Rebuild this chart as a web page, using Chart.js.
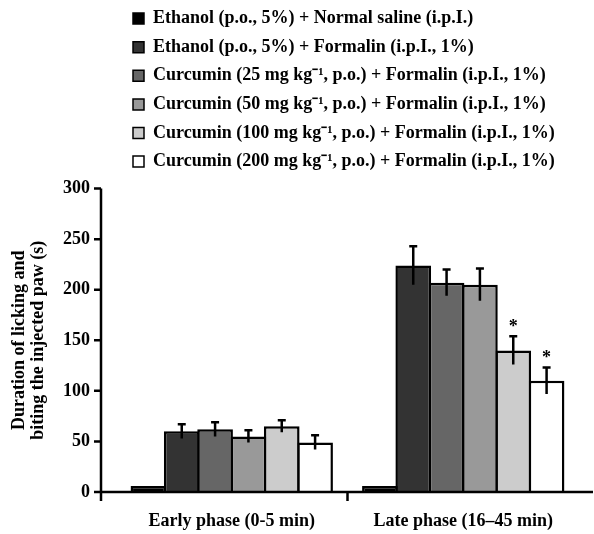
<!DOCTYPE html>
<html>
<head>
<meta charset="utf-8">
<script src="https://cdn.jsdelivr.net/npm/chart.js@4"></script>
<style>
  body { margin: 0; background: #fff; }
</style>
</head>
<body>
<canvas id="chartCanvas" width="594" height="534"></canvas>
<script>
// phases on the x axis
const phases = ['Early phase (0-5 min)', 'Late phase (16\u201345 min)'];

// treatment groups (legend)
const groups = [
    'Ethanol (p.o., 5%) + Normal saline (i.p.I.)',
    'Ethanol (p.o., 5%) + Formalin (i.p.I., 1%)',
    'Curcumin (25 mg kg\u207B\u00B9, p.o.) + Formalin (i.p.I., 1%)',
    'Curcumin (50 mg kg\u207B\u00B9, p.o.) + Formalin (i.p.I., 1%)',
    'Curcumin (100 mg kg\u207B\u00B9, p.o.) + Formalin (i.p.I., 1%)',
    'Curcumin (200 mg kg\u207B\u00B9, p.o.) + Formalin (i.p.I., 1%)'
];
const groupColors = ['#000000', '#333333', '#666666', '#999999', '#cccccc', '#ffffff'];

// mean duration (s) per group: [early, late]
const salineMeans = [6, 6];
const ethanolMeans = [60, 224];
const curc25Means = [62, 207];
const curc50Means = [55, 205];
const curc100Means = [65, 140];
const curc200Means = [49, 110];
const groupMeans = [salineMeans, ethanolMeans, curc25Means, curc50Means, curc100Means, curc200Means];

// SEM per group: [early, late]
const salineSem = [0, 0];
const ethanolSem = [7, 19];
const curc25Sem = [7, 13];
const curc50Sem = [6, 16];
const curc100Sem = [6, 14];
const curc200Sem = [7, 13];
const groupSem = [salineSem, ethanolSem, curc25Sem, curc50Sem, curc100Sem, curc200Sem];

// significance marks (*) per group: [early, late]
const groupStars = [[false, false], [false, false], [false, false], [false, false], [false, true], [false, true]];

// y axis
const yMin = 0;
const yMax = 300;
const yStep = 50;

const FONT = '"Liberation Serif", "Times New Roman", serif';
const AXIS_GAP = 15; // axis lines sit a bit outside the bars area
const TOP_PAD = 7;
const LEGEND_SHIFT = -8;

Chart.defaults.font.family = FONT;
Chart.defaults.font.size = 18;
Chart.defaults.font.weight = 'bold';
Chart.defaults.color = '#000';

//Draws the error bars and the * marks on top of the bars
const errorBarsPlugin = {
    id: 'errorBars',
    afterDatasetsDraw(chart) {
        const ctx = chart.ctx;
        const y = chart.scales.y;
        chart.data.datasets.forEach((ds, i) => {
            const meta = chart.getDatasetMeta(i);
            meta.data.forEach((bar, j) => {
                const err = ds.errors[j];
                if (!err) return;
                const top = y.getPixelForValue(ds.data[j] + err);
                const bottom = y.getPixelForValue(ds.data[j] - err);
                ctx.save();
                ctx.strokeStyle = '#000';
                ctx.lineWidth = 2.5;
                ctx.beginPath();
                ctx.moveTo(bar.x, top);
                ctx.lineTo(bar.x, bottom);
                ctx.moveTo(bar.x - 4, top);
                ctx.lineTo(bar.x + 4, top);
                ctx.stroke();
                if (ds.stars[j]) {
                    ctx.fillStyle = '#000';
                    ctx.font = 'bold 18px ' + FONT;
                    ctx.textAlign = 'center';
                    ctx.textBaseline = 'middle';
                    ctx.fillText('*', bar.x, top - 9);
                }
                ctx.restore();
            });
        });
    }
};

//Draws the axis lines and their tick marks, and moves the legend over the bars
const axesPlugin = {
    id: 'axesLines',
    afterLayout(chart) {
        const legend = chart.legend;
        const dx = chart.chartArea.left + 17 - legend.options.labels.padding - legend.left;
        legend.left += dx;
        legend.right += dx;
        legend.top += LEGEND_SHIFT;
        legend.bottom += LEGEND_SHIFT;
    },
    afterDatasetsDraw(chart) {
        const ctx = chart.ctx;
        const x = chart.scales.x;
        const y = chart.scales.y;
        const axisX = chart.chartArea.left - AXIS_GAP;
        const zeroY = y.getPixelForValue(yMin);
        ctx.save();
        ctx.strokeStyle = '#000';
        ctx.lineWidth = 2.5;
        ctx.beginPath();
        ctx.moveTo(axisX, y.getPixelForValue(yMax));
        ctx.lineTo(axisX, zeroY + 9);
        ctx.moveTo(axisX, zeroY);
        ctx.lineTo(chart.width - 1, zeroY);
        y.ticks.forEach(t => {
            const py = y.getPixelForValue(t.value);
            ctx.moveTo(axisX - 7, py);
            ctx.lineTo(axisX, py);
        });
        for (let k = 1; k < phases.length; k++) {
            const px = (x.getPixelForValue(k - 1) + x.getPixelForValue(k)) / 2;
            ctx.moveTo(px, zeroY);
            ctx.lineTo(px, zeroY + 9);
        }
        ctx.stroke();
        ctx.restore();
    }
};

const ctx = document.getElementById('chartCanvas');

new Chart(ctx, {
    type: 'bar',
    data: {
        labels: phases,
        datasets: groups.map((g, i) => ({
            label: g,
            data: groupMeans[i],
            errors: groupSem[i],
            stars: groupStars[i],
            backgroundColor: groupColors[i],
            borderColor: '#000',
            borderWidth: 2.5,
            categoryPercentage: 0.864,
            barPercentage: 1.07
        }))
    },
    options: {
        responsive: false,
        animation: false,
        layout: {
            padding: { left: 0, right: 15, top: TOP_PAD, bottom: 0 }
        },
        plugins: {
            legend: {
                position: 'top',
                align: 'start',
                labels: {
                    boxWidth: 11,
                    boxHeight: 11,
                    padding: 10.6,
                    color: '#000',
                    generateLabels(chart) {
                        return Chart.defaults.plugins.legend.labels.generateLabels(chart).map(l => ({
                            ...l, lineWidth: 1.5, strokeStyle: '#000'
                        }));
                    }
                }
            },
            tooltip: { enabled: false }
        },
        scales: {
            x: {
                grid: { display: false, drawTicks: false },
                border: { display: false },
                ticks: { padding: 19, color: '#000' },
                afterFit(scale) { scale.height = 42; }
            },
            y: {
                min: yMin,
                max: yMax,
                grid: { display: false, drawTicks: false },
                border: { display: false },
                ticks: { stepSize: yStep, padding: 26, color: '#000' },
                title: {
                    display: true,
                    text: ['Duration of licking and', 'biting the injected paw (s)'],
                    font: { lineHeight: 1.05 },
                    color: '#000',
                    padding: { top: 10, bottom: 12 }
                },
                afterFit(scale) { scale.width = 116; }
            }
        }
    },
    plugins: [errorBarsPlugin, axesPlugin]
});
</script>
</body>
</html>
